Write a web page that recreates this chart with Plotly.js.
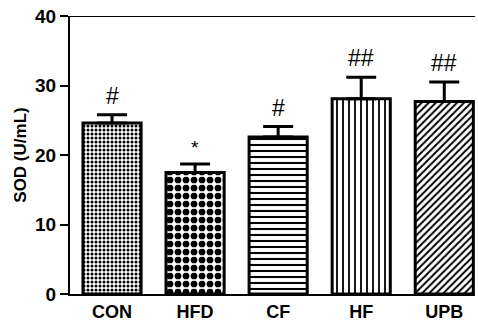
<!DOCTYPE html>
<html><head><meta charset="utf-8">
<script src="https://cdn.plot.ly/plotly-3.0.1.min.js"></script>
<style>body{margin:0;padding:0;background:#fff}#c{width:478px;height:324px}</style>
</head><body><div id="c"></div>
<script>
const categories = ["CON", "HFD", "CF", "HF", "UPB"];
const sodMean = [24.6, 17.5, 22.6, 28.1, 27.7];
const sodErr = [1.2, 1.2, 1.5, 3.1, 2.8];
const sigMarks = ["#", "*", "#", "##", "##"];
const yTicks = [0, 10, 20, 30, 40];

const patterns = [
  {shape: ".", size: 4, solidity: 0.45, fgcolor: "#000", bgcolor: "#fff"},
  {shape: ".", size: 8, solidity: 0.55, fgcolor: "#000", bgcolor: "#fff"},
  {shape: "-", size: 6, solidity: 0.35, fgcolor: "#000", bgcolor: "#fff"},
  {shape: "|", size: 6, solidity: 0.3, fgcolor: "#000", bgcolor: "#fff"},
  {shape: "/", size: 5, solidity: 0.4, fgcolor: "#000", bgcolor: "#fff"}
];

const FONT = "Liberation Sans, Arial, sans-serif";

const traces = categories.map((c, i) => ({
  type: "bar",
  x: [c],
  y: [sodMean[i]],
  width: 0.7,
  marker: {color: "#fff", line: {color: "#000", width: 3}, pattern: patterns[i]},
  error_y: {type: "data", array: [sodErr[i]], arrayminus: [0], symmetric: false,
            color: "#000", thickness: 3, width: 15},
  showlegend: false,
  hoverinfo: "skip"
}));

const annotations = categories.map((c, i) => ({
  x: c, y: sodMean[i] + sodErr[i], xref: "x", yref: "y",
  text: sigMarks[i], showarrow: false, yanchor: "bottom", yshift: 4,
  font: {family: FONT, size: sigMarks[i] === "*" ? 19 : 23, color: "#000"}
}));

const layout = {
  width: 478, height: 324,
  margin: {l: 70, r: 3, t: 16, b: 30},
  paper_bgcolor: "#fff", plot_bgcolor: "#fff",
  font: {family: FONT, color: "#000"},
  xaxis: {
    type: "category", range: [-0.506, 4.37],
    showline: true, linecolor: "#000", linewidth: 2,
    ticks: "", showgrid: false, zeroline: false,
    tickfont: {size: 18, family: FONT, weight: "bold"},
    ticklabelstandoff: 0
  },
  yaxis: {
    range: [0, 40], tickvals: yTicks, ticktext: yTicks.map(String),
    showline: true, linecolor: "#000", linewidth: 2,
    ticks: "outside", ticklen: 8, tickwidth: 2, tickcolor: "#000",
    showgrid: false, zeroline: false,
    tickfont: {size: 19, family: FONT, weight: "bold"},
    ticklabelstandoff: 0,
    title: {text: "SOD (U/mL)", font: {size: 17, family: FONT, weight: "bold"}, standoff: 4}
  },
  shapes: [{type: "line", xref: "paper", yref: "y", x0: 0, x1: 1, y0: 40, y1: 40,
            line: {color: "#000", width: 2}}],
  annotations: annotations
};

Plotly.newPlot("c", traces, layout, {staticPlot: true, displayModeBar: false});
</script></body></html>
